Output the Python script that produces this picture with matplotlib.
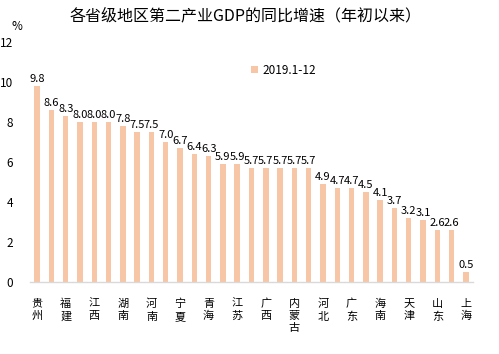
import matplotlib
matplotlib.use('Agg')
from matplotlib import pyplot as plt
import numpy as np

plt.rcParams['font.family'] = ['Noto Sans CJK SC', 'DejaVu Sans']

# provinces in bar order (only every other one is labelled in the chart)
provinces = ['贵州', '云南', '福建', '西藏', '江西', '安徽', '湖南', '四川', '河南', '湖北',
             '宁夏', '山西', '青海', '陕西', '江苏', '浙江', '广西', '重庆', '内蒙古', '新疆',
             '河北', '甘肃', '广东', '黑龙江', '海南', '辽宁', '天津', '吉林', '山东', '北京', '上海']
growth = [9.8, 8.6, 8.3, 8.0, 8.0, 8.0, 7.8, 7.5, 7.5, 7.0,
          6.7, 6.4, 6.3, 5.9, 5.9, 5.7, 5.7, 5.7, 5.7, 5.7,
          4.9, 4.7, 4.7, 4.5, 4.1, 3.7, 3.2, 3.1, 2.6, 2.6, 0.5]
series_name = '2019.1-12'
yticks = [0, 2, 4, 6, 8, 10, 12]

bar_color = '#F7C6A6'

fig = plt.figure(figsize=(4.99, 3.54), dpi=100)
ax = fig.add_axes([30/499, 1 - 282/354, 443/499, 240/354])

x = np.arange(len(provinces))
bars = ax.bar(x, growth, width=0.38, color=bar_color, label=series_name)

for xi, v in zip(x, growth):
    ax.text(xi, v + 0.12, '%.1f' % v, ha='center', va='bottom', fontsize=8)

ax.set_xlim(-0.5, len(provinces) - 0.5)
ax.set_ylim(0, 12)
ax.set_yticks(yticks)
ax.set_yticklabels([str(t) for t in yticks], fontsize=8.5)

ax.set_xticks(x)
labels = ['\n'.join(p) if i % 2 == 0 else '' for i, p in enumerate(provinces)]
ax.set_xticklabels(labels, fontsize=8, linespacing=1.3, va='top')
ax.tick_params(axis='both', length=0)
ax.tick_params(axis='x', pad=12)
ax.tick_params(axis='y', pad=12)

for s in ['top', 'right', 'left']:
    ax.spines[s].set_visible(False)
ax.spines['bottom'].set_color('#D9D9D9')
ax.spines['bottom'].set_linewidth(1)

fig.text(17/499, 1 - 27/354, '%', fontsize=8.5, ha='center', va='center')
fig.text(246/499, 1 - 16/354, '各省级地区第二产业GDP的同比增速（年初以来）',
         fontsize=11.5, ha='center', va='center')

ax.legend(loc='center left', bbox_to_anchor=(240/499, 1 - 70/354),
          bbox_transform=fig.transFigure, frameon=False, fontsize=8.5,
          handlelength=0.6, handleheight=0.6, handletextpad=0.4)

fig.savefig('out.png', dpi=100)
